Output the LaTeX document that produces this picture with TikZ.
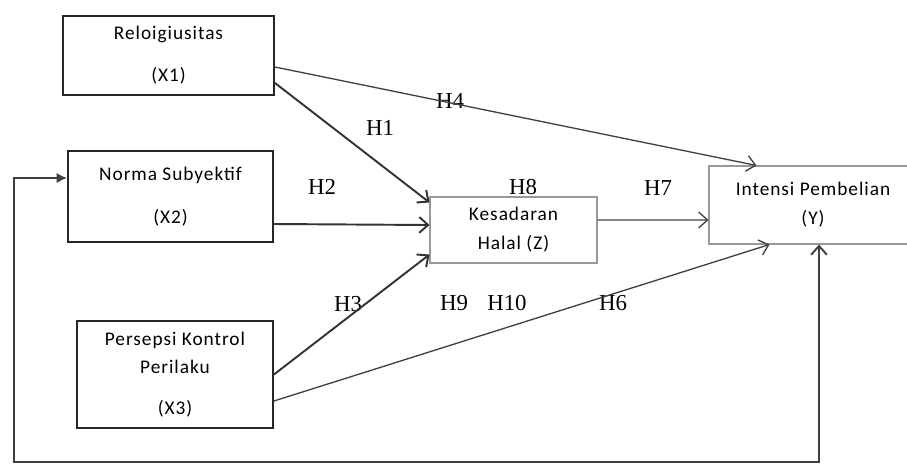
\documentclass[tikz,border=0pt]{standalone}
\usepackage{fontspec}
\setmainfont{Liberation Serif}
\newfontfamily\boxfont[LetterSpace=5]{Carlito}
\usetikzlibrary{arrows.meta}

\begin{document}
\begin{tikzpicture}[x=0.02cm,y=-0.02cm,->,>={Straight Barb[length=5pt,width=9pt]},
 semithick]
 \tikzstyle{var}=[draw=black!85,line width=1.1pt,align=center,inner sep=0pt,
   font=\boxfont\fontsize{11}{13}\selectfont]
 \tikzstyle{mid}=[var,draw=black!40,line width=0.6pt]
 \tikzstyle{hyp}=[font=\fontsize{13}{15}\selectfont,inner sep=0pt]
 \tikzstyle{strong}=[line width=1.1pt,draw=black!80]
 \tikzstyle{weak}=[line width=0.75pt,draw=black!75]
 \tikzstyle{feedback}=[{Straight Barb[length=5pt,width=9pt]}-{Latex[length=6pt,width=6pt]},
   line width=1.1pt,draw=black!75]
 \useasboundingbox (0,0) rectangle (907,464);

 \node[var,minimum width=4.22cm,minimum height=1.58cm] (X1) at (168.5,55.5) {Reloigiusitas\\[0.38cm](X1)};
 \node[var,minimum width=4.10cm,minimum height=1.82cm] (X2) at (170.5,196.5) {Norma Subyektif\\[0.4cm](X2)};
 \node[var,minimum width=3.92cm,minimum height=2.14cm] (X3) at (175,374.5) {Persepsi Kontrol\\[0.1cm]Perilaku\\[0.36cm](X3)};
 \node[mid,minimum width=3.34cm,minimum height=1.32cm] (Z) at (513.5,230) {Kesadaran\\[0.12cm]Halal (Z)};
 \node[mid,minimum width=4.16cm,minimum height=1.56cm] (Y) at (813,205) {Intensi Pembelian\\[0.12cm](Y)};
 \coordinate (corner) at (14,462);

 % hypotheses
 \node[hyp] (h1) at (380,128) {H1};
 \node[hyp] (h2) at (322,187) {H2};
 \node[hyp] (h3) at (348,304) {H3};
 \node[hyp] (h4) at (450,101) {H4};
 \node[hyp] (h6) at (613,303) {H6};
 \node[hyp] (h7) at (658,188) {H7};
 \node[hyp] (h8) at (523,187) {H8};
 \node[hyp] (h9) at (454,303) {H9};
 \node[hyp] (h10) at (507,303) {H10};

 \draw[strong] ([yshift=0.26cm]X1.south east) -- ([yshift=-0.12cm]Z.north west);
 \draw[weak] ([yshift=-0.23cm]X1.east) -- ([xshift=0.96cm]Y.north west);
 \draw[strong] ([yshift=-0.55cm]X2.east) -- ([yshift=0.1cm]Z.west);
 \draw[strong] (X3.east) -- ([yshift=0.18cm]Z.south west);
 \draw[weak] ([yshift=-0.53cm]X3.east) -- ([xshift=1.22cm]Y.south west);
 \draw[weak] ([yshift=0.2cm]Z.east) -- ([yshift=-0.3cm]Y.west);
 \draw[feedback] ([xshift=0.12cm]Y.south) |- (corner) |- ([yshift=-0.56cm]X2.north west);
\end{tikzpicture}
\end{document}
